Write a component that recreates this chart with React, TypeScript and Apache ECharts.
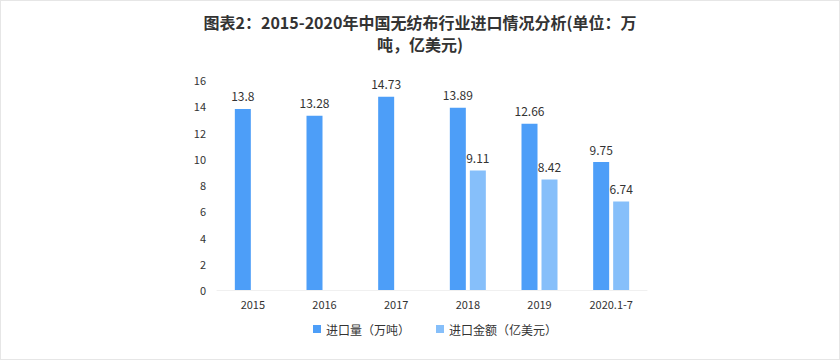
import React, { useEffect, useRef } from "react";
import * as echarts from "echarts";

const categories = ["2015", "2016", "2017", "2018", "2019", "2020.1-7"];
const volumeValues = [13.8, 13.28, 14.73, 13.89, 12.66, 9.75];
const amountValues: (number | null)[] = [null, null, null, 9.11, 8.42, 6.74];
const seriesNames = ["进口量（万吨）", "进口金额（亿美元）"];
const titleLine1 = "图表2：2015-2020年中国无纺布行业进口情况分析(单位：万";
const titleLine2 = "吨，亿美元)";

export default function App() {
  const ref = useRef<HTMLDivElement>(null);
  useEffect(() => {
    if (!ref.current) return;
    const chart = echarts.init(ref.current, undefined, { renderer: "svg" });
    const font = "'Microsoft YaHei', 'Noto Sans CJK SC', 'Noto Sans', sans-serif";
    const titleStyle = {
      fontSize: 16,
      fontWeight: "bold",
      color: "#333",
      lineHeight: 16,
      fontFamily: font,
    };
    chart.setOption({
      animation: false,
      title: [
        { text: titleLine1, left: "center", top: 13, padding: 0, textStyle: titleStyle },
        { text: titleLine2, left: "center", top: 35, padding: 0, textStyle: titleStyle },
      ],
      legend: {
        bottom: 19,
        left: 307,
        itemWidth: 8,
        itemHeight: 8,
        itemGap: 26,
        icon: "rect",
        textStyle: { fontSize: 12, color: "#333", fontFamily: font },
        data: seriesNames,
      },
      grid: { left: 216, right: 192, top: 79, bottom: 69 },
      xAxis: {
        type: "category",
        data: categories,
        axisLine: { show: true, lineStyle: { color: "#f0f0f0" } },
        axisTick: { show: false },
        axisLabel: { fontSize: 11, color: "#333", margin: 8, fontFamily: font },
      },
      yAxis: {
        type: "value",
        min: 0,
        max: 16,
        interval: 2,
        splitLine: { show: false },
        axisLine: { show: false },
        axisTick: { show: false },
        axisLabel: { fontSize: 11, color: "#333", margin: 11, fontFamily: font },
      },
      series: [
        {
          name: seriesNames[0],
          type: "bar",
          data: volumeValues,
          barWidth: 16,
          barGap: "25%",
          itemStyle: { color: "#4d9ef8" },
          label: {
            show: true,
            position: "top",
            distance: 7,
            fontSize: 12,
            color: "#333",
            fontFamily: font,
          },
        },
        {
          name: seriesNames[1],
          type: "bar",
          data: amountValues,
          barWidth: 16,
          barGap: "25%",
          itemStyle: { color: "#86bffa" },
          label: {
            show: true,
            position: "top",
            distance: 7,
            fontSize: 12,
            color: "#333",
            fontFamily: font,
          },
        },
      ],
    });
    return () => chart.dispose();
  }, []);
  return (
    <div
      style={{
        position: "absolute",
        left: 0,
        top: 0,
        width: 840,
        height: 360,
        border: "1px solid #e6e6e6",
        boxSizing: "border-box",
        background: "#fff",
      }}
    >
      <div ref={ref} style={{ width: 838, height: 358 }} />
    </div>
  );
}
